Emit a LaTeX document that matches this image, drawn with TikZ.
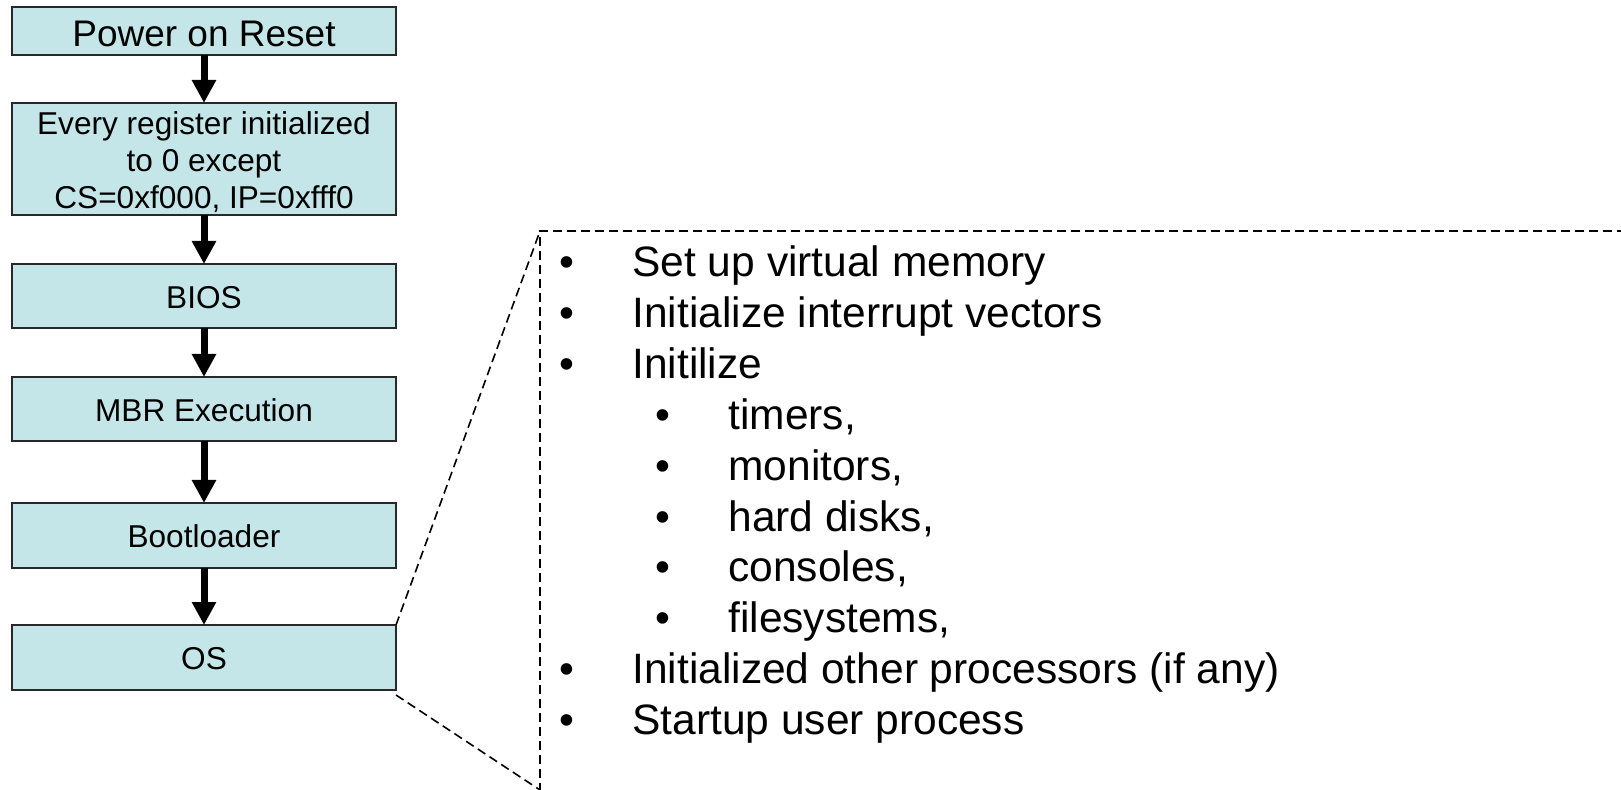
\documentclass[tikz,border=0pt]{standalone}
\usepackage{fontspec}
\setmainfont{Liberation Sans}
\usetikzlibrary{arrows.meta}
\definecolor{boxfill}{RGB}{196,230,232}
\definecolor{boxline}{RGB}{40,40,40}
\begin{document}
\begin{tikzpicture}[x=0.5pt,y=-0.5pt,
  stage/.style={draw=boxline, line width=0.75pt, fill=boxfill, minimum width=192pt,
    inner sep=0pt, outer sep=0pt, font=\fontsize{15.8}{18.6}\selectfont},
  oneline/.style={text height=12.3pt, text depth=0pt},
  flow/.style={line width=3.5pt, -{Triangle[width=11.5pt,length=11.5pt]}},
  zoomline/.style={line width=0.8pt, dash pattern=on 4.5pt off 2.5pt},
  dot/.style={anchor=base, inner sep=0pt, font=\fontsize{21.25}{25}\selectfont},
  entry/.style={anchor=base west, inner sep=0pt, font=\fontsize{21.25}{25}\selectfont}]
\clip (0,0) rectangle (1621,790);

% boot sequence
\node[stage, minimum height=24pt, font=\fontsize{18.5}{22}\selectfont,
  text height=15.2pt, text depth=0pt] (reset) at (204,31) {Power on Reset};
\node[stage, minimum height=56pt, align=center] (regs) at (204,159)
  {\rule{0pt}{14.5pt}Every register initialized\\to 0 except\\CS=0xf000, IP=0xfff0};
\node[stage, oneline, minimum height=32pt] (bios) at (204,296) {BIOS};
\node[stage, oneline, minimum height=32pt] (mbr) at (204,409) {MBR Execution};
\node[stage, oneline, minimum height=32.5pt] (boot) at (204,535.5) {Bootloader};
\node[stage, oneline, minimum height=32.5pt] (os) at (204,657.5) {OS};

\draw[flow] (reset.south) -- (regs.north);
\draw[flow] (regs.south) -- (bios.north);
\draw[flow] (bios.south) -- (mbr.north);
\draw[flow] (mbr.south) -- (boot.north);
\draw[flow] (boot.south) -- (os.north);

% expanded view of the OS stage
\coordinate (tl) at (540,231);
\coordinate (tr) at (1640,231);
\coordinate (bl) at (540,790);
\coordinate (bb) at (540,810);
\draw[zoomline] (tr) -- (tl) -- (bb);
\draw[zoomline] (os.north east) -- (tl);
\draw[zoomline] ([yshift=-2.5pt]os.south east) -- (bl);

% task list
\node[dot] (d1) at (567,276.5) {•};
\node[entry] (t1) at (632,276.5) {Set up virtual memory};
\node[dot] (d2) at (567,327.4) {•};
\node[entry] (t2) at (632,327.4) {Initialize interrupt vectors};
\node[dot] (d3) at (567,378.3) {•};
\node[entry] (t3) at (632,378.3) {Initilize};
\node[dot] (d4) at (663,429.2) {•};
\node[entry] (t4) at (728,429.2) {timers,};
\node[dot] (d5) at (663,480.1) {•};
\node[entry] (t5) at (728,480.1) {monitors,};
\node[dot] (d6) at (663,531) {•};
\node[entry] (t6) at (728,531) {hard disks,};
\node[dot] (d7) at (663,581.9) {•};
\node[entry] (t7) at (728,581.9) {consoles,};
\node[dot] (d8) at (663,632.8) {•};
\node[entry] (t8) at (728,632.8) {filesystems,};
\node[dot] (d9) at (567,683.7) {•};
\node[entry] (t9) at (632,683.7) {Initialized other processors (if any)};
\node[dot] (d10) at (567,734.6) {•};
\node[entry] (t10) at (632,734.6) {Startup user process};
\end{tikzpicture}
\end{document}
